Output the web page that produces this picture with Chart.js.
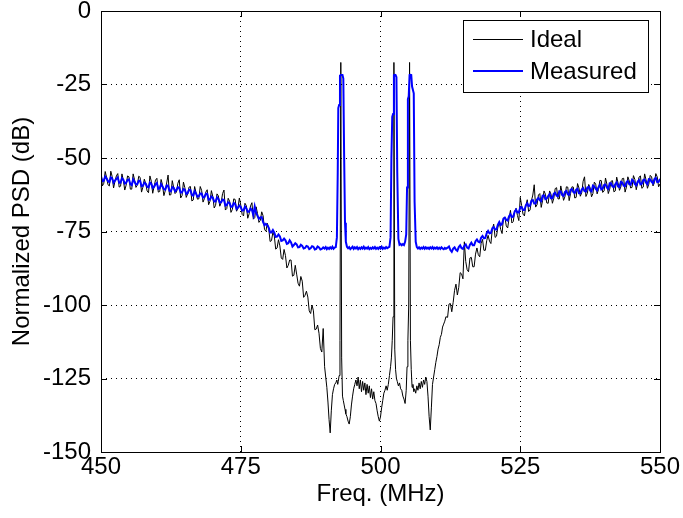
<!DOCTYPE html>
<html><head><meta charset="utf-8">
<script src="https://cdn.jsdelivr.net/npm/chart.js@4.4.1/dist/chart.umd.min.js"></script>
<style>html,body{margin:0;padding:0;background:#fff}canvas{display:block}</style>
</head><body>
<canvas id="c" width="683" height="518"></canvas>
<script>
// ---- data (MHz, dB) ----
const freqLeft = [450,450.5,451,451.5,452,452.5,453,453.5,454,454.5,
455,455.5,456,456.5,457,457.5,458,458.5,459,459.5,
460,460.5,461,461.5,462,462.5,463,463.5,464,464.5,
465,465.5,466,466.5,467,467.5,468,468.5,469,469.5,
470,470.5,471,471.5,472,472.5,473,473.5,474,474.5,
475,475.5,476,476.5,477,477.5,478,478.5,479,479.5,
480,480.5,481,481.5,482,482.5,483,483.5,484,484.5,
485,485.5,486,486.5,487,487.5,488,488.5,489,489.5,
489.75];
const idealLeft = [-55.2,-58.6,-56.6,-59.5,-56.3,-57.9,-55.3,-59.6,-57.6,-59.2,
-56.4,-60.6,-57.4,-59.2,-56.6,-59.9,-58.7,-61.8,-57.9,-59.7,
-56.9,-61.4,-59.1,-61.1,-55.8,-62.5,-60.0,-61.6,-57.4,-62.8,
-60.1,-62.2,-59.7,-64.3,-61.8,-63.9,-61.0,-63.8,-60.8,-64.7,
-63.1,-66.1,-62.9,-65.1,-60.9,-67.2,-64.7,-67.5,-64.1,-67.1,
-66.0,-69.7,-66.2,-69.0,-65.2,-70.3,-68.9,-71.2,-69.7,-74.9,
-73.9,-78.1,-76.5,-80.6,-79.9,-84.5,-83.2,-86.5,-84.7,-89.9,
-89.5,-93.6,-91.9,-96.7,-97.3,-102.9,-102.0,-108.2,-109.6,-116.0,
-108.0];
const measuredLeft = [-56.2,-57.7,-56.9,-58.2,-56.9,-57.7,-56.6,-58.4,-57.4,-58.4,
-57.3,-59.2,-58.1,-58.9,-57.7,-59.4,-58.7,-60.0,-58.7,-59.8,
-58.5,-60.3,-59.7,-60.8,-59.4,-61.3,-60.1,-60.9,-60.2,-61.7,
-60.8,-62.0,-60.9,-62.8,-62.1,-63.0,-62.1,-63.3,-62.2,-64.1,
-63.5,-64.8,-63.9,-65.0,-64.3,-66.0,-65.3,-66.5,-65.6,-66.9,
-66.7,-67.8,-67.1,-68.2,-67.7,-66.5,-69.7,-70.2,-71.8,-72.4,
-73.7,-75.3,-75.4,-76.7,-76.7,-78.0,-78.0,-79.0,-78.7,-79.6,
-79.4,-80.3,-79.9,-80.6,-80.1,-80.7,-80.2,-80.9,-80.4,-80.9,
-80.4];

const freqLeftMid = [450.25,450.75,451.25,451.75,452.25,452.75,453.25,453.75,454.25,454.75,
455.25,455.75,456.25,456.75,457.25,457.75,458.25,458.75,459.25,459.75,
460.25,460.75,461.25,461.75,462.25,462.75,463.25,463.75,464.25,464.75,
465.25,465.75,466.25,466.75,467.25,467.75,468.25,468.75,469.25,469.75,
470.25,470.75,471.25,471.75,472.25,472.75,473.25,473.75,474.25,474.75,
475.25,475.75,476.25,476.75,477.25,477.75,478.25,478.75,479.25,479.75,
480.25,480.75,481.25,481.75,482.25,482.75,483.25,483.75,484.25,484.75,
485.25,485.75,486.25,486.75,487.25,487.75,488.25,488.75,489.25];
const idealLeftMid = [-59.5,-54.6,-59.1,-54.5,-60.2,-56.1,-59.9,-55.4,-60.9,-56.1,
-60.6,-55.4,-60.0,-56.2,-61.6,-57.2,-61.2,-56.1,-62.0,-57.5,
-61.6,-57.3,-62.8,-58.5,-62.6,-57.7,-62.1,-58.6,-63.6,-58.2,
-63.4,-59.9,-64.6,-59.7,-64.0,-59.7,-65.0,-61.6,-65.9,-61.1,
-67.0,-62.2,-66.4,-62.1,-67.7,-63.7,-68.5,-63.9,-68.1,-63.6,
-69.2,-65.4,-70.5,-66.3,-70.8,-66.6,-71.9,-68.3,-74.3,-72.2,
-78.4,-75.3,-81.0,-77.8,-84.0,-81.1,-87.4,-84.7,-90.2,-86.5,
-92.6,-90.3,-97.4,-95.3,-102.0,-100.0,-108.4,-106.8,-114.8];
const measuredLeftMid = [-57.9,-56.3,-57.9,-56.6,-58.4,-57.1,-58.4,-56.9,-58.7,-57.4,
-58.9,-57.3,-59.0,-57.7,-59.6,-58.4,-59.8,-58.3,-60.2,-58.9,
-60.5,-58.9,-60.6,-59.3,-61.2,-59.9,-61.3,-59.9,-61.8,-60.6,
-62.2,-60.8,-62.5,-61.3,-63.2,-62.1,-63.5,-62.2,-64.2,-63.1,
-64.8,-63.4,-65.2,-64.1,-66.2,-65.1,-66.6,-65.3,-67.3,-66.2,
-67.9,-66.5,-68.3,-67.2,-69.4,-68.6,-70.7,-70.1,-72.9,-72.8,
-75.3,-74.5,-76.8,-76.0,-78.2,-77.4,-79.2,-78.0,-80.1,-79.0,
-80.4,-79.5,-80.8,-79.9,-81.0,-80.0,-81.1,-80.1,-81.1];

const freqCentre = [490,490.2,490.4,490.6,490.8,491,491.2,491.4,491.6,491.8,
492,492.2,492.35,492.45,492.6,492.75,492.9,493.05,493.2,493.35,
493.5,493.65,493.8,494,494.2,494.4,494.6,494.8,495,495.2,
495.4,495.6,495.8,496,496.2,496.4,496.6,496.8,497,497.2,
497.4,497.6,497.8,498,498.2,498.4,498.6,498.8,499,499.2,
499.4,499.6,499.8,500,500.2,500.4,500.6,500.8,501,501.2,
501.4,501.6,501.8,501.95,502.1,502.25,502.4,502.55,502.7,502.85,
503,503.2,503.4,503.6,503.8,504,504.2,504.4,504.6,504.75,
504.9,505.05,505.2,505.35,505.5,505.65,505.8,505.95,506.1,506.3,
506.5,506.7,506.9,507.1,507.3,507.5,507.7,507.9,508.1,508.3,
508.5,508.7,508.9,509.1,509.3,509.5,509.7,509.9,510.1,510.3,
510.5,510.7,510.9,511.1,511.3,511.5,511.7];
const idealCentre = [-121,-124.5,-128,-133,-139,-143.5,-136,-130.5,-128.5,-127,
-126.5,-125.5,-127,-126,-124,-112,-17.5,-118,-131,-132.5,
-134,-135.5,-137,-138,-139.5,-140.5,-138,-134,-131,-128.5,
-127,-125.5,-127.5,-124.5,-128.5,-125.5,-129.5,-126,-129,-126.5,
-130.5,-127,-130,-127.5,-131.5,-128.5,-132,-129.5,-132.5,-133.5,
-136,-138,-139.5,-138,-135,-132.5,-130,-129,-127.5,-129,
-127,-124,-121,-118,-112,-104,-17.5,-115,-122,-125,
-126,-127.5,-126.5,-128.5,-129,-131,-132,-133.5,-129,-121,
-112,-100,-17.5,-112,-122,-128,-127,-129.5,-128.5,-130,
-127.5,-129,-126.5,-128.5,-126,-128,-125.5,-127,-124.5,-126,
-131,-138,-142.5,-135,-127,-124.5,-122,-119.5,-117.5,-115,
-113.5,-111,-110,-107.5,-106.5,-105.5,-104];
const measuredCentre = [-80.8,-80.3,-81,-80.5,-80.9,-80.4,-80.8,-80.2,-80.9,-80.5,
-80.3,-77,-55,-33,-32,-22,-21.7,-21.8,-21.8,-23,
-50,-72,-78.5,-80.2,-80.7,-80.3,-81,-80.6,-80.2,-80.9,
-80.4,-80.8,-80.3,-81,-80.5,-80.9,-80.4,-80.8,-80.2,-80.9,
-80.5,-80.8,-80.3,-81,-80.6,-80.9,-80.4,-80.8,-80.3,-80.9,
-80.5,-80.9,-80.4,-80.8,-80.2,-80.9,-80.5,-80.8,-80.3,-80.7,
-80.4,-80.2,-77,-50,-36,-35,-21.8,-21.7,-21.8,-22.5,
-55,-77.5,-79.5,-79.2,-79.7,-79.3,-79.6,-78.5,-76,-60,
-30,-29,-21.8,-21.7,-21.8,-25.7,-25.7,-28,-65,-78.5,
-80.3,-80.8,-80.4,-80.9,-80.5,-80.8,-80.3,-80.9,-80.4,-80.8,
-80.5,-80.9,-80.4,-80.8,-80.3,-80.9,-80.5,-80.8,-80.4,-80.9,
-80.5,-80.9,-80.4,-80.8,-81,-80.6,-80.9];

const freqRight = [512,512.5,513,513.5,514,514.5,515,515.5,516,516.5,
517,517.5,518,518.5,519,519.5,520,520.5,521,521.5,
522,522.5,523,523.5,524,524.5,525,525.5,526,526.5,
527,527.5,528,528.5,529,529.5,530,530.5,531,531.5,
532,532.5,533,533.5,534,534.5,535,535.5,536,536.5,
537,537.5,538,538.5,539,539.5,540,540.5,541,541.5,
542,542.5,543,543.5,544,544.5,545,545.5,546,546.5,
547,547.5,548,548.5,549,549.5,550];
const idealRight = [-104.2,-99.5,-99.1,-92.9,-94.0,-89.4,-78.5,-88.0,-84.0,-87.0,
-82.7,-82.9,-79.0,-81.4,-78.1,-78.3,-74.3,-77.0,-73.5,-74.3,
-70.4,-73.1,-70.5,-72.1,-68.2,-69.6,-63.4,-69.1,-66.2,-68.2,
-64.5,-59.1,-65.9,-62.1,-64.4,-62.3,-65.4,-62.3,-63.7,-60.1,
-63.9,-61.8,-63.1,-59.9,-62.1,-59.9,-63.4,-60.2,-61.8,-56.4,
-62.0,-60.1,-62.1,-58.9,-60.7,-57.7,-61.2,-58.9,-60.6,-57.7,
-61.2,-58.5,-59.8,-56.9,-59.9,-57.8,-60.0,-57.3,-58.7,-56.1,
-59.9,-57.4,-58.9,-56.4,-58.4,-56.4,-58.8];
const measuredRight = [-80.5,-81.3,-80.8,-81.2,-80.3,-80.7,-79.9,-80.5,-79.5,-79.7,
-78.3,-78.5,-77.1,-77.3,-75.6,-75.6,-73.9,-74.3,-72.7,-72.8,
-70.6,-71.1,-69.8,-70.1,-68.3,-68.5,-66.8,-67.7,-66.1,-66.4,
-64.5,-65.5,-64.1,-64.4,-62.8,-64.0,-62.9,-63.7,-62.1,-62.8,
-61.3,-62.6,-61.5,-62.4,-60.8,-61.6,-60.8,-62.0,-60.7,-61.3,
-60.0,-61.1,-59.4,-60.5,-59.9,-60.7,-59.2,-60.1,-58.6,-59.7,
-58.9,-59.7,-58.1,-59.4,-58.3,-58.9,-57.4,-58.9,-58.1,-59.0,
-57.5,-58.4,-57.2,-58.1,-57.2,-58.2,-57.1];

const freqRightMid = [512.25,512.75,513.25,513.75,514.25,514.75,515.25,515.75,516.25,516.75,
517.25,517.75,518.25,518.75,519.25,519.75,520.25,520.75,521.25,521.75,
522.25,522.75,523.25,523.75,524.25,524.75,525.25,525.75,526.25,526.75,
527.25,527.75,528.25,528.75,529.25,529.75,530.25,530.75,531.25,531.75,
532.25,532.75,533.25,533.75,534.25,534.75,535.25,535.75,536.25,536.75,
537.25,537.75,538.25,538.75,539.25,539.75,540.25,540.75,541.25,541.75,
542.25,542.75,543.25,543.75,544.25,544.75,545.25,545.75,546.25,546.75,
547.25,547.75,548.25,548.75,549.25,549.75];
const idealRightMid = [-99.7,-102.3,-95.0,-96.6,-89.0,-91.1,-85.2,-88.7,-83.8,-87.0,
-80.6,-83.6,-77.7,-81.4,-76.3,-79.1,-72.5,-76.6,-72.0,-75.7,
-70.1,-73.8,-67.8,-71.6,-67.1,-71.3,-66.2,-69.7,-64.2,-67.7,
-62.6,-66.7,-62.6,-66.8,-61.2,-65.3,-61.2,-65.4,-60.4,-63.9,
-59.5,-64.4,-59.8,-64.5,-59.8,-63.6,-58.7,-63.0,-57.9,-63.1,
-59.0,-63.2,-58.2,-62.2,-57.6,-61.7,-56.8,-62.1,-57.9,-61.5,
-56.5,-61.0,-57.0,-61.6,-56.4,-60.2,-56.0,-60.8,-56.5,-60.3,
-55.4,-60.3,-55.9,-59.5,-55.3,-59.8];
const measuredRightMid = [-80.1,-81.9,-80.4,-81.6,-79.7,-80.9,-79.4,-80.8,-78.8,-79.7,
-77.7,-78.7,-76.5,-77.2,-74.8,-75.5,-73.5,-74.3,-71.8,-72.4,
-70.3,-71.3,-69.1,-69.9,-67.6,-68.5,-66.7,-67.7,-65.4,-66.2,
-64.3,-65.5,-63.6,-64.7,-62.7,-63.8,-62.3,-63.7,-61.8,-63.0,
-61.4,-62.9,-61.2,-62.5,-60.6,-61.9,-60.5,-62.0,-60.2,-61.4,
-59.8,-61.4,-59.7,-61.0,-59.1,-60.4,-59.0,-60.5,-58.6,-59.9,
-58.3,-59.9,-58.3,-59.6,-57.8,-59.1,-57.8,-59.3,-57.5,-58.8,
-57.3,-58.9,-57.3,-58.6,-56.8,-58.1];

const xTicks = [450,475,500,525,550];
const yTicks = [0,-25,-50,-75,-100,-125,-150];
const seriesNames = ['Ideal','Measured'];
const xTitle = 'Freq. (MHz)';
const yTitle = 'Normalized PSD (dB)';

// ---- build points (merge pieces, sort by frequency) ----
const freqParts = [freqLeft, freqLeftMid, freqCentre, freqRight, freqRightMid];
const idealParts = [idealLeft, idealLeftMid, idealCentre, idealRight, idealRightMid];
const measParts = [measuredLeft, measuredLeftMid, measuredCentre, measuredRight, measuredRightMid];
function buildPoints(parts){
  const out = [];
  freqParts.forEach((fs,k)=>{
    const n = Math.min(fs.length, parts[k].length);
    for (let i=0;i<n;i++) out.push({x:fs[i], y:parts[k][i]});
  });
  return out.sort((a,b)=>a.x-b.x);
}

const FAM = "'Liberation Sans', Arial, Helvetica, sans-serif";
const FS = 24;
Chart.defaults.color = '#000';
Chart.defaults.font.family = FAM;

const frame = {
  id:'frame',
  afterDatasetsDraw(chart){
    const {ctx, chartArea:a, scales:{x,y}} = chart;
    ctx.save();
    ctx.strokeStyle = '#000'; ctx.lineWidth = 1;
    ctx.strokeRect(a.left+0.5, a.top+0.5, a.right-a.left, a.bottom-a.top);
    const L = 6;
    ctx.beginPath();
    xTicks.forEach(v=>{
      const px = Math.round(x.getPixelForValue(v))+0.5;
      ctx.moveTo(px, a.bottom); ctx.lineTo(px, a.bottom-L);
      ctx.moveTo(px, a.top); ctx.lineTo(px, a.top+L);
    });
    yTicks.forEach(v=>{
      const py = Math.round(y.getPixelForValue(v))+0.5;
      ctx.moveTo(a.left, py); ctx.lineTo(a.left+L, py);
      ctx.moveTo(a.right, py); ctx.lineTo(a.right-L, py);
    });
    ctx.stroke();
    ctx.restore();
  }
};

const legendBox = {
  id:'legendBox',
  afterDraw(chart){
    const {ctx, chartArea:a} = chart;
    const ds = chart.data.datasets;
    const bx = a.right - 197, by = a.top + 9, bw = 185, bh = 72;
    ctx.save();
    ctx.fillStyle = '#fff'; ctx.fillRect(bx, by, bw, bh);
    ctx.strokeStyle = '#000'; ctx.lineWidth = 1;
    ctx.strokeRect(bx+0.5, by+0.5, bw, bh);
    ds.forEach((d,i)=>{
      const yy = by + 19 + i*32;
      const off = d.borderWidth % 2 ? 0.5 : 0;
      ctx.strokeStyle = d.borderColor; ctx.lineWidth = d.borderWidth;
      ctx.beginPath(); ctx.moveTo(bx+10, yy+off); ctx.lineTo(bx+60, yy+off); ctx.stroke();
      ctx.fillStyle = '#000'; ctx.font = FS + 'px ' + FAM;
      ctx.textBaseline = 'middle'; ctx.textAlign = 'left';
      ctx.fillText(d.label, bx+67, yy+1);
    });
    ctx.restore();
  }
};

new Chart(document.getElementById('c'), {
  type:'line',
  data:{ datasets:[
    {label:seriesNames[0], data:buildPoints(idealParts), borderColor:'#000000', borderWidth:1, pointRadius:0, tension:0, order:1},
    {label:seriesNames[1], data:buildPoints(measParts), borderColor:'#0000ff', borderWidth:2, pointRadius:0, tension:0, order:0}
  ]},
  options:{
    responsive:false, animation:false, events:[],
    layout:{padding:{top:11, right:23, bottom:0, left:0}},
    plugins:{legend:{display:false}, tooltip:{enabled:false}},
    scales:{
      x:{type:'linear', min:450, max:550,
        afterBuildTicks:s=>{s.ticks = xTicks.map(v=>({value:v}));},
        afterFit:s=>{s.height = 66; s.paddingLeft = 0; s.paddingRight = 0;},
        ticks:{callback:v=>String(v), font:{size:FS}, color:'#000', padding:1, maxRotation:0, autoSkip:false},
        grid:{color:'#000', lineWidth:1, drawTicks:false},
        border:{display:false, dash:[1,4]},
        title:{display:true, text:xTitle, font:{size:FS}, color:'#000', padding:{top:0, bottom:9}}
      },
      y:{type:'linear', min:-150, max:0,
        afterBuildTicks:s=>{s.ticks = yTicks.map(v=>({value:v}));},
        afterFit:s=>{s.width = 101; s.paddingTop = 0; s.paddingBottom = 0;},
        ticks:{callback:v=>String(v), font:{size:FS}, color:'#000', padding:10, autoSkip:false},
        grid:{color:'#000', lineWidth:1, drawTicks:false},
        border:{display:false, dash:[1,4]},
        title:{display:true, text:yTitle, font:{size:FS}, color:'#000', padding:{top:8, bottom:0}}
      }
    }
  },
  plugins:[frame, legendBox]
});
</script>
</body></html>
